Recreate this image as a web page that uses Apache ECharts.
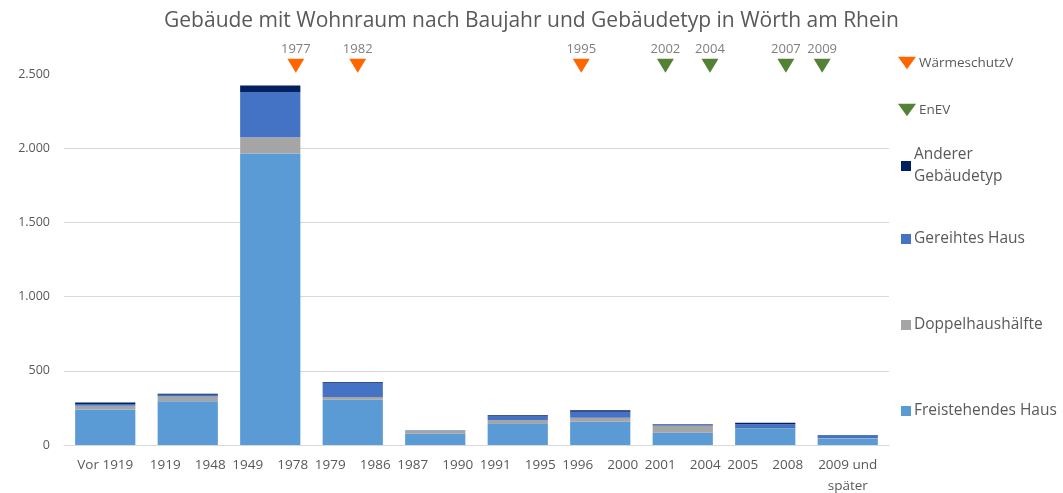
<!DOCTYPE html>
<html>
<head>
<meta charset="utf-8">
<script src="https://cdn.jsdelivr.net/npm/echarts@6/dist/echarts.min.js"></script>
<style>
  html, body { margin: 0; padding: 0; background: #fff; }
  #chart { width: 1063px; height: 493px; }
</style>
</head>
<body>
<div id="chart"></div>
<script>
// data
const categories = ['Vor 1919', '1919    1948', '1949    1978', '1979    1986', '1987    1990',
    '1991    1995', '1996    2000', '2001    2004', '2005    2008', '2009 und\nspäter'];
const freistehend = [240, 295, 1965, 305, 76, 146, 157, 83, 108, 42];
const doppelhaus = [25, 31, 108, 18, 20, 22, 27, 47, 3, 3];
const gereiht = [12, 13, 305, 97, 3, 27, 40, 6, 28, 20];
const anderer = [10, 6, 45, 5, 1, 6, 11, 4, 11, 2];

// markers: position along the category axis (in category units) and year label
const waermeYears = ['1977', '1982', '1995'];
const waermePos = [2.31, 3.06, 5.77];
const enevYears = ['2002', '2004', '2007', '2009'];
const enevPos = [6.79, 7.33, 8.25, 8.69];
const markerLevel = 2556;

const chart = echarts.init(document.getElementById('chart'));

const textColor = '#595959';
const font = 'Open Sans';
const triPath = 'path://M0,0 L10,0 L5,7 Z';

function markerSeries(name, years, pos, color) {
    return {
        name: name,
        type: 'scatter',
        xAxisIndex: 1,
        yAxisIndex: 0,
        clip: false,
        symbol: 'triangle',
        symbolRotate: 180,
        symbolSize: [17, 14],
        itemStyle: { color: color, opacity: 1 },
        label: {
            show: true,
            position: 'top',
            distance: 3,
            color: '#7f7f7f',
            fontSize: 13,
            fontFamily: font,
            formatter: p => years[p.dataIndex]
        },
        data: pos.map(p => [p, markerLevel]),
        z: 5
    };
}

function barSeries(name, data, color) {
    return {
        name: name,
        type: 'bar',
        stack: 'total',
        barWidth: '73%',
        itemStyle: { color: color },
        data: data
    };
}

function legendAt(name, left, top, icon, w, h, fontSize) {
    return {
        data: [{ name: name, icon: icon }],
        left: left,
        top: top,
        orient: 'vertical',
        itemWidth: w,
        itemHeight: h,
        itemGap: 4,
        textStyle: { color: textColor, fontSize: fontSize, fontFamily: font, lineHeight: 22, padding: [0, 0, 0, -2] }
    };
}

const option = {
    animation: false,
    title: {
        text: 'Gebäude mit Wohnraum nach Baujahr und Gebäudetyp in Wörth am Rhein',
        left: 'center',
        top: 6,
        textStyle: { color: textColor, fontSize: 21, fontWeight: 'normal', fontFamily: font }
    },
    legend: [
        legendAt('WärmeschutzV', 893, 47, triPath, 18, 13, 13.5),
        legendAt('EnEV', 893, 94, triPath, 18, 13, 13.5),
        legendAt('Anderer\nGebäudetyp', 896, 139, 'rect', 10, 10, 15.5),
        legendAt('Gereihtes Haus', 896, 223, 'rect', 10, 10, 15.5),
        legendAt('Doppelhaushälfte', 896, 309, 'rect', 10, 10, 15.5),
        legendAt('Freistehendes Haus', 896, 395, 'rect', 10, 10, 15.5)
    ],
    grid: { left: 64, right: 174, top: 74, bottom: 48, outerBoundsMode: 'none', containLabel: false },
    xAxis: [
        {
            type: 'category',
            data: categories,
            axisTick: { show: false },
            axisLine: { lineStyle: { color: '#d9d9d9' } },
            axisLabel: {
                color: textColor,
                fontSize: 13.5,
                fontFamily: font,
                interval: 0,
                margin: 10,
                lineHeight: 21
            }
        },
        {
            type: 'value',
            min: -0.5,
            max: 9.5,
            show: false
        }
    ],
    yAxis: {
        type: 'value',
        min: 0,
        max: 2500,
        interval: 500,
        axisLine: { show: false },
        axisTick: { show: false },
        axisLabel: {
            color: textColor,
            fontSize: 12.5,
            fontFamily: font,
            margin: 14,
            formatter: v => v.toLocaleString('de-DE')
        },
        splitLine: {
            lineStyle: { color: ['#d9d9d9', '#d9d9d9', '#d9d9d9', '#d9d9d9', '#d9d9d9', 'rgba(0,0,0,0)'] }
        }
    },
    series: [
        markerSeries('WärmeschutzV', waermeYears, waermePos, '#ff6600'),
        markerSeries('EnEV', enevYears, enevPos, '#548235'),
        barSeries('Freistehendes Haus', freistehend, '#5b9bd5'),
        barSeries('Doppelhaushälfte', doppelhaus, '#a5a5a5'),
        barSeries('Gereihtes Haus', gereiht, '#4472c4'),
        barSeries('Anderer\nGebäudetyp', anderer, '#002060')
    ]
};

chart.setOption(option);
</script>
</body>
</html>
